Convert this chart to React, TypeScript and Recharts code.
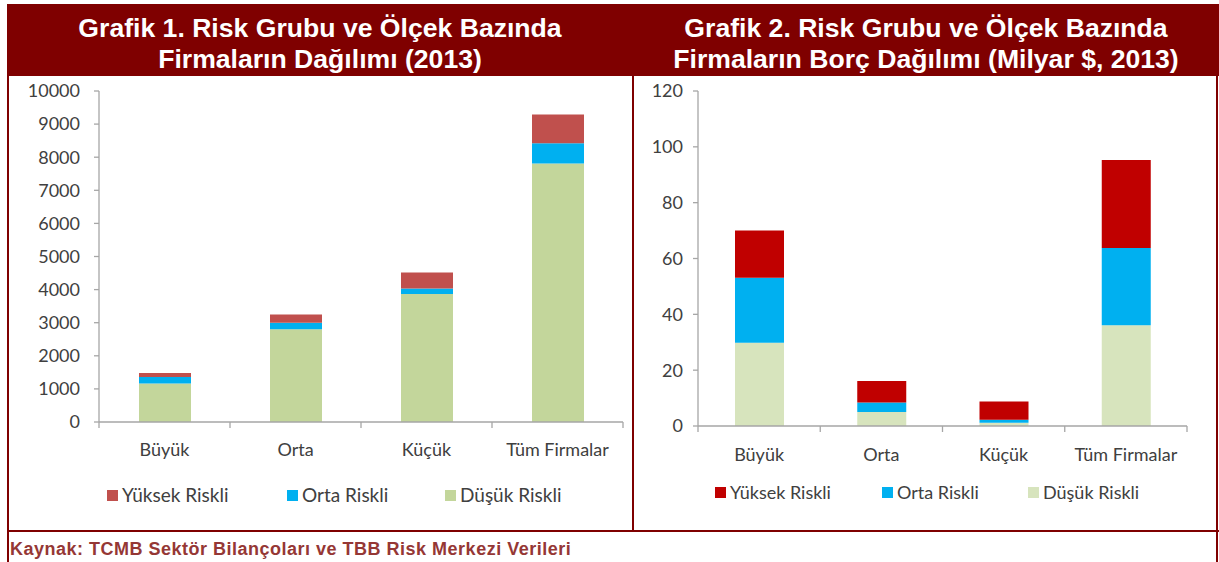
import { BarChart, Bar, XAxis, YAxis } from 'recharts'

const CATEGORIES = ['Büyük', 'Orta', 'Küçük', 'Tüm Firmalar']

// Grafik 1: firm counts
const FIRM_DUSUK = [1160, 2800, 3870, 7810]
const FIRM_ORTA = [200, 200, 160, 610]
const FIRM_YUKSEK = [120, 250, 490, 870]
const FIRM_TICKS = [0, 1000, 2000, 3000, 4000, 5000, 6000, 7000, 8000, 9000, 10000]

// Grafik 2: debt, billion $
const DEBT_DUSUK = [29.8, 5.0, 1.2, 36.1]
const DEBT_ORTA = [23.3, 3.4, 1.0, 27.7]
const DEBT_YUKSEK = [16.9, 7.7, 6.6, 31.5]
const DEBT_TICKS = [0, 20, 40, 60, 80, 100, 120]

const SERIES_NAMES = ['Yüksek Riskli', 'Orta Riskli', 'Düşük Riskli']

const firmData = CATEGORIES.map((name, i) => ({
  name,
  dusuk: FIRM_DUSUK[i],
  orta: FIRM_ORTA[i],
  yuksek: FIRM_YUKSEK[i],
}))

const debtData = CATEGORIES.map((name, i) => ({
  name,
  dusuk: DEBT_DUSUK[i],
  orta: DEBT_ORTA[i],
  yuksek: DEBT_YUKSEK[i],
}))

const MAROON = '#7f0000'
const AXIS = '#a6a6a6'
const TEXT = '#404040'
const FONT = 'Lato, "Open Sans", sans-serif'

function CategoryTick(props: any) {
  const { x, y, payload, index, count, labelOffset } = props
  const half = payload?.offset ?? 0
  return (
    <g>
      <line x1={x - half} y1={y} x2={x - half} y2={y + 6} stroke={AXIS} strokeWidth={1.3} />
      {index === count - 1 && (
        <line x1={x + half} y1={y} x2={x + half} y2={y + 6} stroke={AXIS} strokeWidth={1.3} />
      )}
      <text x={x} y={y + labelOffset} dy="0.35em" textAnchor="middle" fill={TEXT} fontSize={18} fontFamily={FONT}>
        {payload.value}
      </text>
    </g>
  )
}

function LegendRow({ colors, lefts, top, size }: { colors: string[]; lefts: number[]; top: number; size: number }) {
  return (
    <>
      {SERIES_NAMES.map((name, i) => (
        <div
          key={name}
          style={{
            position: 'absolute',
            left: lefts[i],
            top,
            display: 'flex',
            alignItems: 'center',
            fontFamily: FONT,
            fontSize: size,
            color: TEXT,
            whiteSpace: 'nowrap',
            lineHeight: '22px',
          }}
        >
          <span style={{ display: 'inline-block', width: 11, height: 11, background: colors[i], marginRight: 4 }} />
          {name}
        </div>
      ))}
    </>
  )
}

const titleStyle: React.CSSProperties = {
  position: 'absolute',
  top: 13,
  color: '#fff',
  fontFamily: '"Liberation Sans", Arial, sans-serif',
  fontWeight: 700,
  fontSize: 26.6,
  lineHeight: '31px',
  textAlign: 'center',
  whiteSpace: 'nowrap',
}

export default function App() {
  return (
    <div style={{ position: 'fixed', left: 0, top: 0, width: 1219, height: 562, background: '#fff', overflow: 'hidden' }}>
      {/* header band */}
      <div style={{ position: 'absolute', left: 7, top: 4, width: 1212, height: 72, background: MAROON }} />
      <div style={{ ...titleStyle, left: 7, width: 626 }}>
        Grafik 1. Risk Grubu ve Ölçek Bazında
        <br />
        Firmaların Dağılımı (2013)
      </div>
      <div style={{ ...titleStyle, left: 634, width: 584 }}>
        Grafik 2. Risk Grubu ve Ölçek Bazında
        <br />
        Firmaların Borç Dağılımı (Milyar $, 2013)
      </div>

      {/* frame lines */}
      <div style={{ position: 'absolute', left: 7, top: 4, width: 2, height: 558, background: MAROON }} />
      <div style={{ position: 'absolute', left: 632, top: 76, width: 2, height: 455, background: MAROON }} />
      <div style={{ position: 'absolute', left: 1216, top: 76, width: 2, height: 486, background: MAROON }} />
      <div style={{ position: 'absolute', left: 7, top: 530, width: 1212, height: 2, background: MAROON }} />

      {/* Grafik 1 */}
      <div style={{ position: 'absolute', left: 0, top: 77 }}>
        <BarChart width={633} height={390} data={firmData} margin={{ top: 14, right: 10, left: 0, bottom: 0 }}>
          <XAxis
            dataKey="name"
            height={45}
            axisLine={{ stroke: AXIS, strokeWidth: 1.3 }}
            tickLine={false}
            tickSize={0}
            tickMargin={0}
            interval={0}
            tick={<CategoryTick count={CATEGORIES.length} labelOffset={28} />}
          />
          <YAxis
            width={99}
            domain={[0, 10000]}
            ticks={FIRM_TICKS}
            interval={0}
            axisLine={{ stroke: AXIS, strokeWidth: 1.3 }}
            tickLine={{ stroke: AXIS, strokeWidth: 1.3 }}
            tickSize={5}
            tickMargin={14}
            tick={{ fill: TEXT, fontSize: 18, fontFamily: FONT }}
          />
          <Bar dataKey="dusuk" stackId="a" fill="#c3d69b" barSize={52} isAnimationActive={false} />
          <Bar dataKey="orta" stackId="a" fill="#00b0f0" barSize={52} isAnimationActive={false} />
          <Bar dataKey="yuksek" stackId="a" fill="#c0504d" barSize={52} isAnimationActive={false} />
        </BarChart>
      </div>
      <LegendRow colors={['#c0504d', '#00b0f0', '#c3d69b']} lefts={[107, 287, 445]} top={484} size={19} />

      {/* Grafik 2 */}
      <div style={{ position: 'absolute', left: 634, top: 77 }}>
        <BarChart width={585} height={394} data={debtData} margin={{ top: 14, right: 32, left: 0, bottom: 0 }}>
          <XAxis
            dataKey="name"
            height={45}
            axisLine={{ stroke: AXIS, strokeWidth: 1.3 }}
            tickLine={false}
            tickSize={0}
            tickMargin={0}
            interval={0}
            tick={<CategoryTick count={CATEGORIES.length} labelOffset={29} />}
          />
          <YAxis
            width={64}
            domain={[0, 120]}
            ticks={DEBT_TICKS}
            interval={0}
            axisLine={{ stroke: AXIS, strokeWidth: 1.3 }}
            tickLine={{ stroke: AXIS, strokeWidth: 1.3 }}
            tickSize={5}
            tickMargin={10}
            tick={{ fill: TEXT, fontSize: 18, fontFamily: FONT }}
          />
          <Bar dataKey="dusuk" stackId="b" fill="#d7e4bd" barSize={49} isAnimationActive={false} />
          <Bar dataKey="orta" stackId="b" fill="#00b0f0" barSize={49} isAnimationActive={false} />
          <Bar dataKey="yuksek" stackId="b" fill="#c00000" barSize={49} isAnimationActive={false} />
        </BarChart>
      </div>
      <LegendRow colors={['#c00000', '#00b0f0', '#d7e4bd']} lefts={[715, 882, 1028]} top={481} size={18} />

      <div
        style={{
          position: 'absolute',
          left: 10,
          top: 539,
          fontFamily: '"Liberation Sans", Arial, sans-serif',
          fontWeight: 700,
          fontSize: 18,
          letterSpacing: 0.5,
          color: '#953735',
          whiteSpace: 'nowrap',
          lineHeight: '20px',
        }}
      >
        Kaynak: TCMB Sektör Bilançoları ve TBB Risk Merkezi Verileri
      </div>
    </div>
  )
}
